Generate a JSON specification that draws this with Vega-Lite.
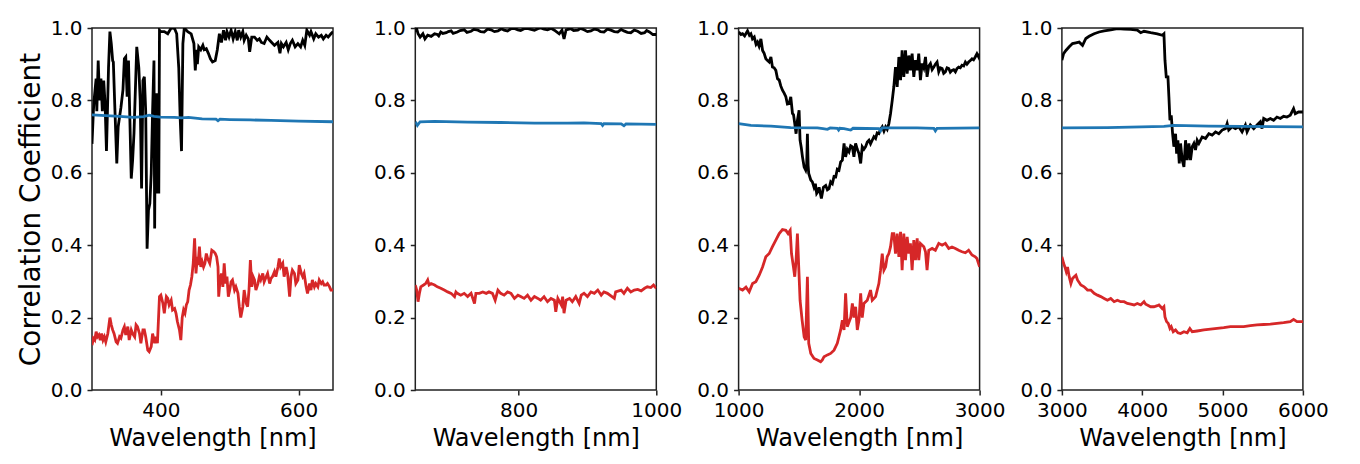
{
"$schema": "https://vega.github.io/schema/vega-lite/v6.json",
"padding": {"left": 16, "top": 17, "right": 5, "bottom": 5},
"background": "white",
"bounds": "flush",
"spacing": 82.3,
"datasets": {
"d1": [
{"s":"k","x":300,"y":0.68},{"s":"k","x":302,"y":0.77},{"s":"k","x":303,"y":0.80},{"s":"k","x":306,"y":0.86},{"s":"k","x":307,"y":0.77},{"s":"k","x":309,"y":0.91},{"s":"k","x":311,"y":0.80},{"s":"k","x":313,"y":0.86},{"s":"k","x":315,"y":0.77},{"s":"k","x":317,"y":0.855},{"s":"k","x":319,"y":0.79},{"s":"k","x":321,"y":0.66},{"s":"k","x":324,"y":0.89},{"s":"k","x":326,"y":0.99},{"s":"k","x":328,"y":0.957},{"s":"k","x":330,"y":0.91},{"s":"k","x":331,"y":0.906},{"s":"k","x":333,"y":0.79},{"s":"k","x":336,"y":0.626},{"s":"k","x":338,"y":0.727},{"s":"k","x":340,"y":0.754},{"s":"k","x":342,"y":0.78},{"s":"k","x":345,"y":0.83},{"s":"k","x":347,"y":0.915},{"s":"k","x":349,"y":0.92},{"s":"k","x":351,"y":0.81},{"s":"k","x":353,"y":0.91},{"s":"k","x":357,"y":0.584},{"s":"k","x":359,"y":0.635},{"s":"k","x":361,"y":0.71},{"s":"k","x":365,"y":0.948},{"s":"k","x":368,"y":0.89},{"s":"k","x":370,"y":0.80},{"s":"k","x":372,"y":0.557},{"s":"k","x":374,"y":0.855},{"s":"k","x":376,"y":0.865},{"s":"k","x":378,"y":0.77},{"s":"k","x":380,"y":0.39},{"s":"k","x":382,"y":0.497},{"s":"k","x":384,"y":0.515},{"s":"k","x":386,"y":0.598},{"s":"k","x":388,"y":0.77},{"s":"k","x":390,"y":0.91},{"s":"k","x":391,"y":0.446},{"s":"k","x":392,"y":0.82},{"s":"k","x":394,"y":0.543},{"s":"k","x":395,"y":0.82},{"s":"k","x":397,"y":0.543},{"s":"k","x":398,"y":0.994},{"s":"k","x":400,"y":0.99},{"s":"k","x":405,"y":0.99},{"s":"k","x":410,"y":0.984},{"s":"k","x":415,"y":1.0},{"s":"k","x":420,"y":0.998},{"s":"k","x":423,"y":0.984},{"s":"k","x":426,"y":0.89},{"s":"k","x":428,"y":0.754},{"s":"k","x":430,"y":0.66},{"s":"k","x":432,"y":0.957},{"s":"k","x":434,"y":1.0},{"s":"k","x":439,"y":0.99},{"s":"k","x":444,"y":0.984},{"s":"k","x":448,"y":0.957},{"s":"k","x":450,"y":0.883},{"s":"k","x":452,"y":0.94},{"s":"k","x":453,"y":0.90},{"s":"k","x":455,"y":0.948},{"s":"k","x":458,"y":0.94},{"s":"k","x":461,"y":0.952},{"s":"k","x":463,"y":0.94},{"s":"k","x":466,"y":0.943},{"s":"k","x":469,"y":0.93},{"s":"k","x":472,"y":0.915},{"s":"k","x":475,"y":0.906},{"s":"k","x":479,"y":0.91},{"s":"k","x":482,"y":0.94},{"s":"k","x":485,"y":0.984},{"s":"k","x":488,"y":0.96},{"s":"k","x":491,"y":0.994},{"s":"k","x":494,"y":0.966},{"s":"k","x":496,"y":0.99},{"s":"k","x":499,"y":0.975},{"s":"k","x":502,"y":0.994},{"s":"k","x":505,"y":0.97},{"s":"k","x":508,"y":0.99},{"s":"k","x":511,"y":0.966},{"s":"k","x":513,"y":0.994},{"s":"k","x":516,"y":0.975},{"s":"k","x":519,"y":0.99},{"s":"k","x":521,"y":0.966},{"s":"k","x":524,"y":0.98},{"s":"k","x":527,"y":0.97},{"s":"k","x":529,"y":0.934},{"s":"k","x":532,"y":0.975},{"s":"k","x":536,"y":0.975},{"s":"k","x":540,"y":0.966},{"s":"k","x":543,"y":0.97},{"s":"k","x":546,"y":0.96},{"s":"k","x":550,"y":0.957},{"s":"k","x":554,"y":0.975},{"s":"k","x":558,"y":0.966},{"s":"k","x":561,"y":0.96},{"s":"k","x":565,"y":0.952},{"s":"k","x":570,"y":0.96},{"s":"k","x":573,"y":0.93},{"s":"k","x":575,"y":0.957},{"s":"k","x":578,"y":0.948},{"s":"k","x":582,"y":0.96},{"s":"k","x":585,"y":0.94},{"s":"k","x":588,"y":0.957},{"s":"k","x":591,"y":0.966},{"s":"k","x":595,"y":0.948},{"s":"k","x":599,"y":0.957},{"s":"k","x":603,"y":0.948},{"s":"k","x":606,"y":0.966},{"s":"k","x":609,"y":0.952},{"s":"k","x":612,"y":0.994},{"s":"k","x":616,"y":0.98},{"s":"k","x":618,"y":0.99},{"s":"k","x":622,"y":0.97},{"s":"k","x":625,"y":0.984},{"s":"k","x":629,"y":0.975},{"s":"k","x":633,"y":0.98},{"s":"k","x":636,"y":0.97},{"s":"k","x":640,"y":0.98},{"s":"k","x":643,"y":0.975},{"s":"k","x":647,"y":0.984},{"s":"k","x":650,"y":0.99},
{"s":"r","x":300,"y":0.124},{"s":"r","x":302,"y":0.143},{"s":"r","x":304,"y":0.138},{"s":"r","x":306,"y":0.161},{"s":"r","x":308,"y":0.147},{"s":"r","x":310,"y":0.152},{"s":"r","x":312,"y":0.138},{"s":"r","x":314,"y":0.156},{"s":"r","x":316,"y":0.138},{"s":"r","x":318,"y":0.147},{"s":"r","x":320,"y":0.133},{"s":"r","x":323,"y":0.156},{"s":"r","x":326,"y":0.20},{"s":"r","x":328,"y":0.18},{"s":"r","x":330,"y":0.166},{"s":"r","x":332,"y":0.156},{"s":"r","x":335,"y":0.133},{"s":"r","x":337,"y":0.129},{"s":"r","x":340,"y":0.147},{"s":"r","x":342,"y":0.143},{"s":"r","x":345,"y":0.166},{"s":"r","x":347,"y":0.175},{"s":"r","x":349,"y":0.152},{"s":"r","x":352,"y":0.175},{"s":"r","x":354,"y":0.138},{"s":"r","x":357,"y":0.166},{"s":"r","x":359,"y":0.156},{"s":"r","x":362,"y":0.147},{"s":"r","x":364,"y":0.18},{"s":"r","x":366,"y":0.175},{"s":"r","x":369,"y":0.156},{"s":"r","x":371,"y":0.129},{"s":"r","x":374,"y":0.166},{"s":"r","x":376,"y":0.166},{"s":"r","x":378,"y":0.147},{"s":"r","x":381,"y":0.11},{"s":"r","x":383,"y":0.106},{"s":"r","x":386,"y":0.12},{"s":"r","x":388,"y":0.156},{"s":"r","x":391,"y":0.129},{"s":"r","x":393,"y":0.147},{"s":"r","x":395,"y":0.129},{"s":"r","x":398,"y":0.258},{"s":"r","x":400,"y":0.262},{"s":"r","x":403,"y":0.239},{"s":"r","x":405,"y":0.212},{"s":"r","x":408,"y":0.258},{"s":"r","x":410,"y":0.253},{"s":"r","x":412,"y":0.235},{"s":"r","x":415,"y":0.248},{"s":"r","x":417,"y":0.221},{"s":"r","x":420,"y":0.225},{"s":"r","x":422,"y":0.212},{"s":"r","x":424,"y":0.189},{"s":"r","x":427,"y":0.166},{"s":"r","x":429,"y":0.138},{"s":"r","x":431,"y":0.20},{"s":"r","x":433,"y":0.221},{"s":"r","x":435,"y":0.212},{"s":"r","x":437,"y":0.235},{"s":"r","x":439,"y":0.244},{"s":"r","x":441,"y":0.276},{"s":"r","x":443,"y":0.29},{"s":"r","x":445,"y":0.313},{"s":"r","x":447,"y":0.35},{"s":"r","x":449,"y":0.419},{"s":"r","x":451,"y":0.322},{"s":"r","x":453,"y":0.368},{"s":"r","x":454,"y":0.345},{"s":"r","x":456,"y":0.396},{"s":"r","x":458,"y":0.34},{"s":"r","x":460,"y":0.354},{"s":"r","x":462,"y":0.34},{"s":"r","x":464,"y":0.35},{"s":"r","x":466,"y":0.377},{"s":"r","x":468,"y":0.363},{"s":"r","x":471,"y":0.35},{"s":"r","x":474,"y":0.386},{"s":"r","x":477,"y":0.382},{"s":"r","x":479,"y":0.377},{"s":"r","x":481,"y":0.368},{"s":"r","x":483,"y":0.34},{"s":"r","x":484,"y":0.258},{"s":"r","x":486,"y":0.304},{"s":"r","x":488,"y":0.322},{"s":"r","x":490,"y":0.285},{"s":"r","x":492,"y":0.35},{"s":"r","x":494,"y":0.294},{"s":"r","x":496,"y":0.313},{"s":"r","x":498,"y":0.258},{"s":"r","x":500,"y":0.276},{"s":"r","x":502,"y":0.299},{"s":"r","x":504,"y":0.304},{"s":"r","x":507,"y":0.276},{"s":"r","x":509,"y":0.285},{"s":"r","x":512,"y":0.267},{"s":"r","x":514,"y":0.23},{"s":"r","x":516,"y":0.20},{"s":"r","x":519,"y":0.23},{"s":"r","x":521,"y":0.276},{"s":"r","x":524,"y":0.239},{"s":"r","x":526,"y":0.23},{"s":"r","x":528,"y":0.276},{"s":"r","x":530,"y":0.359},{"s":"r","x":532,"y":0.285},{"s":"r","x":534,"y":0.313},{"s":"r","x":536,"y":0.304},{"s":"r","x":538,"y":0.276},{"s":"r","x":541,"y":0.294},{"s":"r","x":543,"y":0.313},{"s":"r","x":545,"y":0.304},{"s":"r","x":548,"y":0.322},{"s":"r","x":550,"y":0.299},{"s":"r","x":553,"y":0.313},{"s":"r","x":555,"y":0.322},{"s":"r","x":558,"y":0.294},{"s":"r","x":560,"y":0.308},{"s":"r","x":562,"y":0.313},{"s":"r","x":565,"y":0.327},{"s":"r","x":567,"y":0.313},{"s":"r","x":570,"y":0.34},{"s":"r","x":572,"y":0.363},{"s":"r","x":574,"y":0.34},{"s":"r","x":577,"y":0.35},{"s":"r","x":579,"y":0.313},{"s":"r","x":582,"y":0.34},{"s":"r","x":584,"y":0.322},{"s":"r","x":587,"y":0.258},{"s":"r","x":589,"y":0.313},{"s":"r","x":591,"y":0.331},{"s":"r","x":594,"y":0.322},{"s":"r","x":596,"y":0.294},{"s":"r","x":599,"y":0.304},{"s":"r","x":601,"y":0.345},{"s":"r","x":604,"y":0.322},{"s":"r","x":606,"y":0.313},{"s":"r","x":608,"y":0.322},{"s":"r","x":611,"y":0.285},{"s":"r","x":613,"y":0.267},{"s":"r","x":616,"y":0.294},{"s":"r","x":618,"y":0.276},{"s":"r","x":620,"y":0.304},{"s":"r","x":623,"y":0.285},{"s":"r","x":625,"y":0.294},{"s":"r","x":628,"y":0.285},{"s":"r","x":630,"y":0.304},{"s":"r","x":633,"y":0.294},{"s":"r","x":635,"y":0.299},{"s":"r","x":637,"y":0.29},{"s":"r","x":640,"y":0.29},{"s":"r","x":642,"y":0.294},{"s":"r","x":645,"y":0.285},{"s":"r","x":647,"y":0.276},{"s":"r","x":650,"y":0.276},
{"s":"b","x":300,"y":0.760},{"s":"b","x":320,"y":0.758},{"s":"b","x":340,"y":0.756},{"s":"b","x":360,"y":0.753},{"s":"b","x":375,"y":0.755},{"s":"b","x":383,"y":0.759},{"s":"b","x":390,"y":0.756},{"s":"b","x":400,"y":0.754},{"s":"b","x":420,"y":0.753},{"s":"b","x":430,"y":0.752},{"s":"b","x":440,"y":0.753},{"s":"b","x":460,"y":0.749},{"s":"b","x":480,"y":0.748},{"s":"b","x":483,"y":0.744},{"s":"b","x":486,"y":0.748},{"s":"b","x":500,"y":0.747},{"s":"b","x":530,"y":0.746},{"s":"b","x":560,"y":0.745},{"s":"b","x":600,"y":0.743},{"s":"b","x":650,"y":0.741}
],
"d2": [
{"s":"k","x":650,"y":0.989},{"s":"k","x":652,"y":0.998},{"s":"k","x":654,"y":0.984},{"s":"k","x":657,"y":0.975},{"s":"k","x":661,"y":0.984},{"s":"k","x":664,"y":0.97},{"s":"k","x":668,"y":0.98},{"s":"k","x":673,"y":0.977},{"s":"k","x":678,"y":0.984},{"s":"k","x":682,"y":0.982},{"s":"k","x":684,"y":0.978},{"s":"k","x":687,"y":0.989},{"s":"k","x":690,"y":0.985},{"s":"k","x":695,"y":0.987},{"s":"k","x":698,"y":0.99},{"s":"k","x":702,"y":0.992},{"s":"k","x":705,"y":0.985},{"s":"k","x":711,"y":0.989},{"s":"k","x":715,"y":0.993},{"s":"k","x":721,"y":0.995},{"s":"k","x":725,"y":0.988},{"s":"k","x":731,"y":0.991},{"s":"k","x":735,"y":0.996},{"s":"k","x":741,"y":0.994},{"s":"k","x":745,"y":0.99},{"s":"k","x":750,"y":0.989},{"s":"k","x":755,"y":0.997},{"s":"k","x":760,"y":0.995},{"s":"k","x":765,"y":0.99},{"s":"k","x":770,"y":0.992},{"s":"k","x":775,"y":0.998},{"s":"k","x":779,"y":0.994},{"s":"k","x":784,"y":0.992},{"s":"k","x":789,"y":0.998},{"s":"k","x":794,"y":0.999},{"s":"k","x":799,"y":0.995},{"s":"k","x":803,"y":0.993},{"s":"k","x":808,"y":0.998},{"s":"k","x":813,"y":0.999},{"s":"k","x":818,"y":0.996},{"s":"k","x":823,"y":0.994},{"s":"k","x":828,"y":0.998},{"s":"k","x":832,"y":1.0},{"s":"k","x":837,"y":0.997},{"s":"k","x":842,"y":0.995},{"s":"k","x":847,"y":0.999},{"s":"k","x":852,"y":0.994},{"s":"k","x":859,"y":0.984},{"s":"k","x":863,"y":0.994},{"s":"k","x":866,"y":0.97},{"s":"k","x":869,"y":0.995},{"s":"k","x":876,"y":0.998},{"s":"k","x":880,"y":0.993},{"s":"k","x":886,"y":0.994},{"s":"k","x":890,"y":0.999},{"s":"k","x":895,"y":0.995},{"s":"k","x":900,"y":0.99},{"s":"k","x":905,"y":0.992},{"s":"k","x":910,"y":0.997},{"s":"k","x":915,"y":0.995},{"s":"k","x":919,"y":0.99},{"s":"k","x":924,"y":0.989},{"s":"k","x":929,"y":0.997},{"s":"k","x":934,"y":0.994},{"s":"k","x":939,"y":0.99},{"s":"k","x":944,"y":0.989},{"s":"k","x":949,"y":0.996},{"s":"k","x":953,"y":0.992},{"s":"k","x":958,"y":0.988},{"s":"k","x":963,"y":0.987},{"s":"k","x":968,"y":0.994},{"s":"k","x":973,"y":0.991},{"s":"k","x":978,"y":0.985},{"s":"k","x":983,"y":0.987},{"s":"k","x":986,"y":0.993},{"s":"k","x":990,"y":0.989},{"s":"k","x":995,"y":0.982},{"s":"k","x":1000,"y":0.982},
{"s":"r","x":650,"y":0.29},{"s":"r","x":652,"y":0.276},{"s":"r","x":654,"y":0.244},{"s":"r","x":656,"y":0.267},{"s":"r","x":658,"y":0.285},{"s":"r","x":662,"y":0.29},{"s":"r","x":665,"y":0.294},{"s":"r","x":668,"y":0.304},{"s":"r","x":670,"y":0.29},{"s":"r","x":673,"y":0.294},{"s":"r","x":678,"y":0.29},{"s":"r","x":682,"y":0.285},{"s":"r","x":687,"y":0.281},{"s":"r","x":692,"y":0.276},{"s":"r","x":697,"y":0.271},{"s":"r","x":702,"y":0.267},{"s":"r","x":707,"y":0.258},{"s":"r","x":709,"y":0.271},{"s":"r","x":711,"y":0.267},{"s":"r","x":716,"y":0.262},{"s":"r","x":721,"y":0.267},{"s":"r","x":726,"y":0.258},{"s":"r","x":731,"y":0.267},{"s":"r","x":736,"y":0.239},{"s":"r","x":738,"y":0.267},{"s":"r","x":743,"y":0.267},{"s":"r","x":748,"y":0.271},{"s":"r","x":753,"y":0.267},{"s":"r","x":757,"y":0.271},{"s":"r","x":762,"y":0.267},{"s":"r","x":766,"y":0.248},{"s":"r","x":770,"y":0.276},{"s":"r","x":774,"y":0.267},{"s":"r","x":779,"y":0.262},{"s":"r","x":784,"y":0.271},{"s":"r","x":789,"y":0.267},{"s":"r","x":794,"y":0.253},{"s":"r","x":799,"y":0.262},{"s":"r","x":803,"y":0.258},{"s":"r","x":808,"y":0.253},{"s":"r","x":813,"y":0.262},{"s":"r","x":818,"y":0.248},{"s":"r","x":823,"y":0.258},{"s":"r","x":828,"y":0.253},{"s":"r","x":832,"y":0.248},{"s":"r","x":837,"y":0.258},{"s":"r","x":842,"y":0.244},{"s":"r","x":847,"y":0.253},{"s":"r","x":852,"y":0.248},{"s":"r","x":854,"y":0.216},{"s":"r","x":857,"y":0.253},{"s":"r","x":862,"y":0.235},{"s":"r","x":864,"y":0.258},{"s":"r","x":866,"y":0.212},{"s":"r","x":869,"y":0.248},{"s":"r","x":874,"y":0.253},{"s":"r","x":878,"y":0.244},{"s":"r","x":883,"y":0.258},{"s":"r","x":888,"y":0.239},{"s":"r","x":891,"y":0.262},{"s":"r","x":895,"y":0.267},{"s":"r","x":900,"y":0.258},{"s":"r","x":905,"y":0.271},{"s":"r","x":910,"y":0.267},{"s":"r","x":915,"y":0.276},{"s":"r","x":920,"y":0.262},{"s":"r","x":924,"y":0.271},{"s":"r","x":929,"y":0.267},{"s":"r","x":939,"y":0.253},{"s":"r","x":941,"y":0.271},{"s":"r","x":949,"y":0.276},{"s":"r","x":953,"y":0.267},{"s":"r","x":958,"y":0.281},{"s":"r","x":963,"y":0.271},{"s":"r","x":968,"y":0.276},{"s":"r","x":973,"y":0.278},{"s":"r","x":978,"y":0.274},{"s":"r","x":983,"y":0.281},{"s":"r","x":987,"y":0.285},{"s":"r","x":992,"y":0.283},{"s":"r","x":996,"y":0.29},{"s":"r","x":1000,"y":0.281},
{"s":"b","x":650,"y":0.741},{"s":"b","x":653,"y":0.731},{"s":"b","x":657,"y":0.741},{"s":"b","x":678,"y":0.742},{"s":"b","x":726,"y":0.740},{"s":"b","x":774,"y":0.739},{"s":"b","x":823,"y":0.737},{"s":"b","x":871,"y":0.737},{"s":"b","x":895,"y":0.738},{"s":"b","x":920,"y":0.736},{"s":"b","x":922,"y":0.731},{"s":"b","x":924,"y":0.736},{"s":"b","x":949,"y":0.735},{"s":"b","x":953,"y":0.73},{"s":"b","x":956,"y":0.735},{"s":"b","x":1000,"y":0.734}
],
"d3": [
{"s":"k","x":1000,"y":0.989},{"s":"k","x":1020,"y":0.982},{"s":"k","x":1033,"y":0.984},{"s":"k","x":1050,"y":0.978},{"s":"k","x":1074,"y":0.992},{"s":"k","x":1090,"y":0.98},{"s":"k","x":1102,"y":0.984},{"s":"k","x":1115,"y":0.97},{"s":"k","x":1130,"y":0.975},{"s":"k","x":1145,"y":0.955},{"s":"k","x":1157,"y":0.961},{"s":"k","x":1170,"y":0.95},{"s":"k","x":1185,"y":0.97},{"s":"k","x":1199,"y":0.938},{"s":"k","x":1212,"y":0.93},{"s":"k","x":1226,"y":0.915},{"s":"k","x":1240,"y":0.91},{"s":"k","x":1254,"y":0.906},{"s":"k","x":1268,"y":0.92},{"s":"k","x":1281,"y":0.892},{"s":"k","x":1295,"y":0.89},{"s":"k","x":1309,"y":0.883},{"s":"k","x":1323,"y":0.86},{"s":"k","x":1337,"y":0.856},{"s":"k","x":1350,"y":0.84},{"s":"k","x":1364,"y":0.828},{"s":"k","x":1378,"y":0.82},{"s":"k","x":1392,"y":0.81},{"s":"k","x":1405,"y":0.79},{"s":"k","x":1419,"y":0.791},{"s":"k","x":1433,"y":0.81},{"s":"k","x":1447,"y":0.764},{"s":"k","x":1456,"y":0.76},{"s":"k","x":1466,"y":0.736},{"s":"k","x":1477,"y":0.708},{"s":"k","x":1488,"y":0.745},{"s":"k","x":1502,"y":0.773},{"s":"k","x":1510,"y":0.69},{"s":"k","x":1520,"y":0.67},{"s":"k","x":1530,"y":0.644},{"s":"k","x":1544,"y":0.616},{"s":"k","x":1557,"y":0.607},{"s":"k","x":1565,"y":0.62},{"s":"k","x":1571,"y":0.708},{"s":"k","x":1577,"y":0.62},{"s":"k","x":1582,"y":0.598},{"s":"k","x":1599,"y":0.58},{"s":"k","x":1612,"y":0.575},{"s":"k","x":1626,"y":0.56},{"s":"k","x":1637,"y":0.57},{"s":"k","x":1648,"y":0.543},{"s":"k","x":1658,"y":0.548},{"s":"k","x":1668,"y":0.56},{"s":"k","x":1687,"y":0.529},{"s":"k","x":1704,"y":0.56},{"s":"k","x":1723,"y":0.565},{"s":"k","x":1737,"y":0.553},{"s":"k","x":1750,"y":0.556},{"s":"k","x":1764,"y":0.575},{"s":"k","x":1778,"y":0.57},{"s":"k","x":1792,"y":0.59},{"s":"k","x":1806,"y":0.589},{"s":"k","x":1819,"y":0.61},{"s":"k","x":1833,"y":0.607},{"s":"k","x":1847,"y":0.63},{"s":"k","x":1861,"y":0.635},{"s":"k","x":1875,"y":0.681},{"s":"k","x":1888,"y":0.644},{"s":"k","x":1902,"y":0.665},{"s":"k","x":1916,"y":0.658},{"s":"k","x":1930,"y":0.675},{"s":"k","x":1944,"y":0.672},{"s":"k","x":1957,"y":0.644},{"s":"k","x":1971,"y":0.681},{"s":"k","x":1985,"y":0.665},{"s":"k","x":1999,"y":0.653},{"s":"k","x":2013,"y":0.626},{"s":"k","x":2026,"y":0.672},{"s":"k","x":2040,"y":0.665},{"s":"k","x":2054,"y":0.672},{"s":"k","x":2068,"y":0.685},{"s":"k","x":2082,"y":0.69},{"s":"k","x":2095,"y":0.68},{"s":"k","x":2109,"y":0.69},{"s":"k","x":2123,"y":0.7},{"s":"k","x":2137,"y":0.695},{"s":"k","x":2150,"y":0.71},{"s":"k","x":2164,"y":0.708},{"s":"k","x":2178,"y":0.72},{"s":"k","x":2192,"y":0.727},{"s":"k","x":2206,"y":0.715},{"s":"k","x":2220,"y":0.727},{"s":"k","x":2233,"y":0.72},{"s":"k","x":2247,"y":0.736},{"s":"k","x":2261,"y":0.764},{"s":"k","x":2275,"y":0.8},{"s":"k","x":2288,"y":0.837},{"s":"k","x":2302,"y":0.892},{"s":"k","x":2316,"y":0.837},{"s":"k","x":2330,"y":0.92},{"s":"k","x":2344,"y":0.856},{"s":"k","x":2357,"y":0.938},{"s":"k","x":2371,"y":0.865},{"s":"k","x":2385,"y":0.938},{"s":"k","x":2399,"y":0.874},{"s":"k","x":2413,"y":0.924},{"s":"k","x":2426,"y":0.883},{"s":"k","x":2440,"y":0.929},{"s":"k","x":2454,"y":0.865},{"s":"k","x":2468,"y":0.911},{"s":"k","x":2482,"y":0.883},{"s":"k","x":2495,"y":0.929},{"s":"k","x":2509,"y":0.856},{"s":"k","x":2523,"y":0.902},{"s":"k","x":2537,"y":0.89},{"s":"k","x":2551,"y":0.92},{"s":"k","x":2564,"y":0.865},{"s":"k","x":2578,"y":0.895},{"s":"k","x":2592,"y":0.902},{"s":"k","x":2606,"y":0.885},{"s":"k","x":2620,"y":0.892},{"s":"k","x":2633,"y":0.9},{"s":"k","x":2647,"y":0.906},{"s":"k","x":2661,"y":0.879},{"s":"k","x":2675,"y":0.89},{"s":"k","x":2689,"y":0.888},{"s":"k","x":2702,"y":0.875},{"s":"k","x":2716,"y":0.879},{"s":"k","x":2730,"y":0.89},{"s":"k","x":2744,"y":0.888},{"s":"k","x":2757,"y":0.878},{"s":"k","x":2771,"y":0.883},{"s":"k","x":2785,"y":0.885},{"s":"k","x":2799,"y":0.879},{"s":"k","x":2812,"y":0.888},{"s":"k","x":2826,"y":0.892},{"s":"k","x":2840,"y":0.89},{"s":"k","x":2854,"y":0.897},{"s":"k","x":2868,"y":0.895},{"s":"k","x":2882,"y":0.906},{"s":"k","x":2895,"y":0.9},{"s":"k","x":2909,"y":0.906},{"s":"k","x":2923,"y":0.91},{"s":"k","x":2937,"y":0.915},{"s":"k","x":2950,"y":0.912},{"s":"k","x":2964,"y":0.92},{"s":"k","x":2978,"y":0.929},{"s":"k","x":2992,"y":0.92},{"s":"k","x":3000,"y":0.929},
{"s":"r","x":1000,"y":0.281},{"s":"r","x":1033,"y":0.276},{"s":"r","x":1061,"y":0.284},{"s":"r","x":1088,"y":0.271},{"s":"r","x":1116,"y":0.294},{"s":"r","x":1143,"y":0.299},{"s":"r","x":1171,"y":0.317},{"s":"r","x":1199,"y":0.34},{"s":"r","x":1226,"y":0.368},{"s":"r","x":1254,"y":0.377},{"s":"r","x":1281,"y":0.396},{"s":"r","x":1309,"y":0.414},{"s":"r","x":1337,"y":0.432},{"s":"r","x":1364,"y":0.443},{"s":"r","x":1392,"y":0.441},{"s":"r","x":1411,"y":0.432},{"s":"r","x":1428,"y":0.441},{"s":"r","x":1439,"y":0.377},{"s":"r","x":1455,"y":0.34},{"s":"r","x":1466,"y":0.313},{"s":"r","x":1477,"y":0.359},{"s":"r","x":1488,"y":0.432},{"s":"r","x":1499,"y":0.34},{"s":"r","x":1510,"y":0.248},{"s":"r","x":1527,"y":0.193},{"s":"r","x":1544,"y":0.147},{"s":"r","x":1557,"y":0.138},{"s":"r","x":1571,"y":0.313},{"s":"r","x":1582,"y":0.129},{"s":"r","x":1599,"y":0.101},{"s":"r","x":1626,"y":0.087},{"s":"r","x":1654,"y":0.083},{"s":"r","x":1681,"y":0.078},{"s":"r","x":1695,"y":0.083},{"s":"r","x":1709,"y":0.092},{"s":"r","x":1737,"y":0.097},{"s":"r","x":1764,"y":0.101},{"s":"r","x":1792,"y":0.11},{"s":"r","x":1819,"y":0.129},{"s":"r","x":1847,"y":0.166},{"s":"r","x":1861,"y":0.193},{"s":"r","x":1875,"y":0.166},{"s":"r","x":1888,"y":0.267},{"s":"r","x":1902,"y":0.175},{"s":"r","x":1930,"y":0.2},{"s":"r","x":1944,"y":0.239},{"s":"r","x":1957,"y":0.2},{"s":"r","x":1971,"y":0.23},{"s":"r","x":1985,"y":0.166},{"s":"r","x":1999,"y":0.193},{"s":"r","x":2013,"y":0.267},{"s":"r","x":2026,"y":0.2},{"s":"r","x":2040,"y":0.239},{"s":"r","x":2068,"y":0.248},{"s":"r","x":2095,"y":0.276},{"s":"r","x":2109,"y":0.248},{"s":"r","x":2137,"y":0.258},{"s":"r","x":2164,"y":0.294},{"s":"r","x":2178,"y":0.331},{"s":"r","x":2192,"y":0.377},{"s":"r","x":2206,"y":0.331},{"s":"r","x":2220,"y":0.34},{"s":"r","x":2233,"y":0.368},{"s":"r","x":2247,"y":0.377},{"s":"r","x":2261,"y":0.396},{"s":"r","x":2275,"y":0.432},{"s":"r","x":2288,"y":0.432},{"s":"r","x":2302,"y":0.377},{"s":"r","x":2316,"y":0.432},{"s":"r","x":2330,"y":0.368},{"s":"r","x":2344,"y":0.437},{"s":"r","x":2357,"y":0.331},{"s":"r","x":2371,"y":0.432},{"s":"r","x":2385,"y":0.359},{"s":"r","x":2399,"y":0.423},{"s":"r","x":2413,"y":0.377},{"s":"r","x":2426,"y":0.405},{"s":"r","x":2440,"y":0.331},{"s":"r","x":2454,"y":0.414},{"s":"r","x":2468,"y":0.359},{"s":"r","x":2482,"y":0.419},{"s":"r","x":2495,"y":0.359},{"s":"r","x":2509,"y":0.405},{"s":"r","x":2537,"y":0.396},{"s":"r","x":2551,"y":0.382},{"s":"r","x":2564,"y":0.331},{"s":"r","x":2578,"y":0.386},{"s":"r","x":2606,"y":0.391},{"s":"r","x":2633,"y":0.386},{"s":"r","x":2661,"y":0.405},{"s":"r","x":2689,"y":0.4},{"s":"r","x":2716,"y":0.405},{"s":"r","x":2744,"y":0.391},{"s":"r","x":2771,"y":0.395},{"s":"r","x":2799,"y":0.391},{"s":"r","x":2826,"y":0.386},{"s":"r","x":2854,"y":0.382},{"s":"r","x":2882,"y":0.379},{"s":"r","x":2909,"y":0.386},{"s":"r","x":2937,"y":0.373},{"s":"r","x":2964,"y":0.368},{"s":"r","x":2978,"y":0.363},{"s":"r","x":3000,"y":0.34},
{"s":"b","x":1000,"y":0.736},{"s":"b","x":1102,"y":0.731},{"s":"b","x":1268,"y":0.729},{"s":"b","x":1433,"y":0.725},{"s":"b","x":1654,"y":0.724},{"s":"b","x":1700,"y":0.722},{"s":"b","x":1737,"y":0.72},{"s":"b","x":1760,"y":0.724},{"s":"b","x":1819,"y":0.723},{"s":"b","x":1830,"y":0.718},{"s":"b","x":1840,"y":0.723},{"s":"b","x":1875,"y":0.722},{"s":"b","x":1930,"y":0.718},{"s":"b","x":1950,"y":0.723},{"s":"b","x":2164,"y":0.722},{"s":"b","x":2178,"y":0.716},{"s":"b","x":2190,"y":0.724},{"s":"b","x":2482,"y":0.724},{"s":"b","x":2620,"y":0.723},{"s":"b","x":2633,"y":0.716},{"s":"b","x":2647,"y":0.723},{"s":"b","x":3000,"y":0.724}
],
"d4": [
{"s":"k","x":3000,"y":0.911},{"s":"k","x":3021,"y":0.929},{"s":"k","x":3050,"y":0.938},{"s":"k","x":3091,"y":0.948},{"s":"k","x":3132,"y":0.957},{"s":"k","x":3174,"y":0.959},{"s":"k","x":3215,"y":0.961},{"s":"k","x":3257,"y":0.952},{"s":"k","x":3298,"y":0.971},{"s":"k","x":3339,"y":0.977},{"s":"k","x":3401,"y":0.984},{"s":"k","x":3463,"y":0.989},{"s":"k","x":3526,"y":0.992},{"s":"k","x":3608,"y":0.995},{"s":"k","x":3691,"y":0.998},{"s":"k","x":3774,"y":0.997},{"s":"k","x":3857,"y":0.996},{"s":"k","x":3939,"y":0.994},{"s":"k","x":3981,"y":0.987},{"s":"k","x":4022,"y":0.991},{"s":"k","x":4105,"y":0.987},{"s":"k","x":4188,"y":0.984},{"s":"k","x":4250,"y":0.98},{"s":"k","x":4270,"y":0.984},{"s":"k","x":4283,"y":0.911},{"s":"k","x":4299,"y":0.865},{"s":"k","x":4320,"y":0.865},{"s":"k","x":4332,"y":0.81},{"s":"k","x":4345,"y":0.745},{"s":"k","x":4361,"y":0.759},{"s":"k","x":4378,"y":0.708},{"s":"k","x":4394,"y":0.672},{"s":"k","x":4415,"y":0.708},{"s":"k","x":4428,"y":0.653},{"s":"k","x":4444,"y":0.69},{"s":"k","x":4461,"y":0.626},{"s":"k","x":4477,"y":0.681},{"s":"k","x":4498,"y":0.635},{"s":"k","x":4519,"y":0.616},{"s":"k","x":4539,"y":0.69},{"s":"k","x":4560,"y":0.635},{"s":"k","x":4581,"y":0.681},{"s":"k","x":4601,"y":0.635},{"s":"k","x":4622,"y":0.672},{"s":"k","x":4643,"y":0.681},{"s":"k","x":4663,"y":0.663},{"s":"k","x":4684,"y":0.69},{"s":"k","x":4705,"y":0.681},{"s":"k","x":4746,"y":0.699},{"s":"k","x":4788,"y":0.695},{"s":"k","x":4829,"y":0.708},{"s":"k","x":4870,"y":0.704},{"s":"k","x":4912,"y":0.713},{"s":"k","x":4953,"y":0.708},{"s":"k","x":4995,"y":0.718},{"s":"k","x":5036,"y":0.722},{"s":"k","x":5057,"y":0.736},{"s":"k","x":5077,"y":0.718},{"s":"k","x":5119,"y":0.727},{"s":"k","x":5160,"y":0.722},{"s":"k","x":5201,"y":0.727},{"s":"k","x":5243,"y":0.713},{"s":"k","x":5284,"y":0.732},{"s":"k","x":5305,"y":0.713},{"s":"k","x":5346,"y":0.732},{"s":"k","x":5388,"y":0.722},{"s":"k","x":5429,"y":0.732},{"s":"k","x":5470,"y":0.741},{"s":"k","x":5491,"y":0.722},{"s":"k","x":5512,"y":0.75},{"s":"k","x":5553,"y":0.745},{"s":"k","x":5595,"y":0.75},{"s":"k","x":5636,"y":0.745},{"s":"k","x":5677,"y":0.754},{"s":"k","x":5719,"y":0.75},{"s":"k","x":5760,"y":0.756},{"s":"k","x":5801,"y":0.754},{"s":"k","x":5843,"y":0.759},{"s":"k","x":5884,"y":0.777},{"s":"k","x":5905,"y":0.763},{"s":"k","x":5946,"y":0.768},{"s":"k","x":6000,"y":0.768},
{"s":"r","x":3000,"y":0.368},{"s":"r","x":3021,"y":0.35},{"s":"r","x":3037,"y":0.34},{"s":"r","x":3054,"y":0.327},{"s":"r","x":3070,"y":0.34},{"s":"r","x":3091,"y":0.313},{"s":"r","x":3112,"y":0.294},{"s":"r","x":3132,"y":0.308},{"s":"r","x":3153,"y":0.313},{"s":"r","x":3174,"y":0.317},{"s":"r","x":3194,"y":0.304},{"s":"r","x":3236,"y":0.29},{"s":"r","x":3277,"y":0.285},{"s":"r","x":3319,"y":0.276},{"s":"r","x":3360,"y":0.276},{"s":"r","x":3401,"y":0.267},{"s":"r","x":3443,"y":0.262},{"s":"r","x":3484,"y":0.258},{"s":"r","x":3526,"y":0.253},{"s":"r","x":3567,"y":0.248},{"s":"r","x":3608,"y":0.253},{"s":"r","x":3650,"y":0.244},{"s":"r","x":3691,"y":0.248},{"s":"r","x":3732,"y":0.244},{"s":"r","x":3774,"y":0.244},{"s":"r","x":3815,"y":0.239},{"s":"r","x":3857,"y":0.237},{"s":"r","x":3898,"y":0.235},{"s":"r","x":3939,"y":0.239},{"s":"r","x":3981,"y":0.235},{"s":"r","x":4022,"y":0.244},{"s":"r","x":4043,"y":0.237},{"s":"r","x":4063,"y":0.235},{"s":"r","x":4105,"y":0.23},{"s":"r","x":4146,"y":0.23},{"s":"r","x":4188,"y":0.233},{"s":"r","x":4208,"y":0.235},{"s":"r","x":4229,"y":0.23},{"s":"r","x":4250,"y":0.225},{"s":"r","x":4270,"y":0.23},{"s":"r","x":4283,"y":0.202},{"s":"r","x":4303,"y":0.189},{"s":"r","x":4324,"y":0.184},{"s":"r","x":4345,"y":0.17},{"s":"r","x":4361,"y":0.175},{"s":"r","x":4386,"y":0.161},{"s":"r","x":4415,"y":0.166},{"s":"r","x":4444,"y":0.158},{"s":"r","x":4477,"y":0.156},{"s":"r","x":4519,"y":0.161},{"s":"r","x":4560,"y":0.158},{"s":"r","x":4593,"y":0.17},{"s":"r","x":4622,"y":0.161},{"s":"r","x":4684,"y":0.163},{"s":"r","x":4767,"y":0.166},{"s":"r","x":4850,"y":0.168},{"s":"r","x":4932,"y":0.17},{"s":"r","x":5015,"y":0.172},{"s":"r","x":5098,"y":0.175},{"s":"r","x":5181,"y":0.175},{"s":"r","x":5263,"y":0.175},{"s":"r","x":5346,"y":0.178},{"s":"r","x":5429,"y":0.18},{"s":"r","x":5512,"y":0.181},{"s":"r","x":5595,"y":0.182},{"s":"r","x":5677,"y":0.184},{"s":"r","x":5760,"y":0.186},{"s":"r","x":5843,"y":0.189},{"s":"r","x":5884,"y":0.195},{"s":"r","x":5926,"y":0.189},{"s":"r","x":6000,"y":0.189},
{"s":"b","x":3000,"y":0.724},{"s":"b","x":3567,"y":0.725},{"s":"b","x":4270,"y":0.728},{"s":"b","x":4394,"y":0.731},{"s":"b","x":4829,"y":0.729},{"s":"b","x":5243,"y":0.728},{"s":"b","x":6000,"y":0.727}
]
},
"hconcat": [
{"width": 241, "height": 362, "data": {"name": "d1"},
 "mark": {"type": "line", "strokeWidth": 2.8, "clip": true},
 "encoding": {
  "x": {"field": "x", "type": "quantitative", "scale": {"domain": [300, 650], "nice": false, "zero": false}, "axis": {"values": [400, 600], "title": "Wavelength [nm]"}},
  "y": {"field": "y", "type": "quantitative", "scale": {"domain": [0, 1], "nice": false}, "axis": {"values": [0, 0.2, 0.4, 0.6, 0.8, 1], "format": ".1f", "title": "Correlation Coefficient", "titleFontSize": 28}},
  "color": {"field": "s", "type": "nominal", "scale": {"domain": ["k", "r", "b"], "range": ["#000000", "#d62728", "#1f77b4"]}, "legend": null}
 }},
{"width": 241, "height": 362, "data": {"name": "d2"},
 "mark": {"type": "line", "strokeWidth": 2.8, "clip": true},
 "encoding": {
  "x": {"field": "x", "type": "quantitative", "scale": {"domain": [650, 1000], "nice": false, "zero": false}, "axis": {"values": [800, 1000], "title": "Wavelength [nm]"}},
  "y": {"field": "y", "type": "quantitative", "scale": {"domain": [0, 1], "nice": false}, "axis": {"values": [0, 0.2, 0.4, 0.6, 0.8, 1], "format": ".1f", "title": null}},
  "color": {"field": "s", "type": "nominal", "scale": {"domain": ["k", "r", "b"], "range": ["#000000", "#d62728", "#1f77b4"]}, "legend": null}
 }},
{"width": 241, "height": 362, "data": {"name": "d3"},
 "mark": {"type": "line", "strokeWidth": 2.8, "clip": true},
 "encoding": {
  "x": {"field": "x", "type": "quantitative", "scale": {"domain": [1000, 3000], "nice": false, "zero": false}, "axis": {"values": [1000, 2000, 3000], "title": "Wavelength [nm]"}},
  "y": {"field": "y", "type": "quantitative", "scale": {"domain": [0, 1], "nice": false}, "axis": {"values": [0, 0.2, 0.4, 0.6, 0.8, 1], "format": ".1f", "title": null}},
  "color": {"field": "s", "type": "nominal", "scale": {"domain": ["k", "r", "b"], "range": ["#000000", "#d62728", "#1f77b4"]}, "legend": null}
 }},
{"width": 241, "height": 362, "data": {"name": "d4"},
 "mark": {"type": "line", "strokeWidth": 2.8, "clip": true},
 "encoding": {
  "x": {"field": "x", "type": "quantitative", "scale": {"domain": [3000, 6000], "nice": false, "zero": false}, "axis": {"values": [3000, 4000, 5000, 6000], "title": "Wavelength [nm]"}},
  "y": {"field": "y", "type": "quantitative", "scale": {"domain": [0, 1], "nice": false}, "axis": {"values": [0, 0.2, 0.4, 0.6, 0.8, 1], "format": ".1f", "title": null}},
  "color": {"field": "s", "type": "nominal", "scale": {"domain": ["k", "r", "b"], "range": ["#000000", "#d62728", "#1f77b4"]}, "legend": null}
 }}
],
"resolve": {"scale": {"x": "independent"}},
"config": {
 "font": "DejaVu Sans",
 "view": {"stroke": "#222222", "strokeWidth": 1.5},
 "axis": {"domain": false, "grid": false, "ticks": true, "tickSize": 5, "tickWidth": 1.5, "tickColor": "#222222", "labelFont": "DejaVu Sans", "labelFontSize": 20, "labelColor": "#000000", "labelPadding": 5, "labelOverlap": false, "labelBound": false, "labelFlush": false, "titleFont": "DejaVu Sans", "titleFontSize": 24, "titleFontWeight": "normal", "titleColor": "#000000"},
 "axisX": {"titlePadding": 6, "format": "d"},
 "axisY": {"titlePadding": 5}
}
}
